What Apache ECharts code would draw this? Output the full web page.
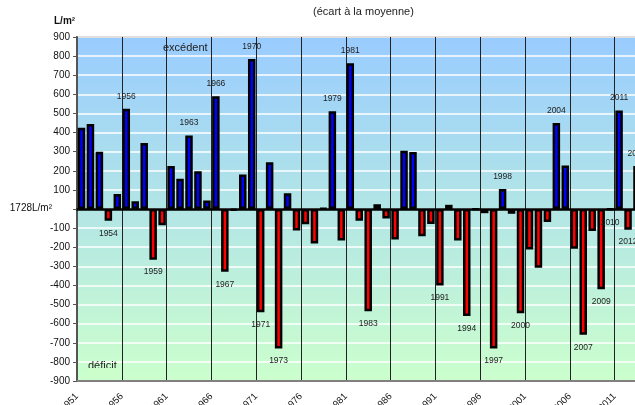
<!DOCTYPE html>
<html>
<head>
<meta charset="utf-8">
<script src="https://cdn.jsdelivr.net/npm/echarts@6/dist/echarts.min.js"></script>
<style>
  html, body { margin: 0; padding: 0; background: #fff; }
  #main { width: 635px; height: 405px; }
</style>
</head>
<body>
<div id="main"></div>
<script>
// écart à la moyenne (1728 L/m²), une barre par année
var firstYear = 1951;
var ecarts = [
  425, 445, 300, -62, 78, 525, 40, 345, -265, -85,
  225, 158, 385, 198, 45, 590, -328, -8, 180, 785,
  -540, 245, -730, 82, -112, -80, -180, 3, 512, -165,
  762, -62, -535, 25, -50, -160, 305, 298, -142, -78,
  -400, 22, -165, -560, -2, -22, -730, 105, -25, -545,
  -212, -308, -68, 450, 228, -208, -658, -115, -420, -3,
  515, -108, 225
];
var years = ecarts.map(function (v, i) { return firstYear + i; });
// années annotées au-dessus / au-dessous de la barre
var labeledYears = [1954, 1956, 1959, 1963, 1966, 1967, 1970, 1971, 1973, 1979, 1981,
  1983, 1991, 1994, 1997, 1998, 2000, 2004, 2007, 2009, 2010, 2011, 2012, 2013];
var yTicks = { min: -900, max: 900, step: 100 };

var font = 'Liberation Sans, Arial, sans-serif';

var barData = ecarts.map(function (v, i) {
  var y = years[i];
  var item = {
    value: v,
    itemStyle: { color: v >= 0 ? '#0000ff' : '#ff0000' }
  };
  if (labeledYears.indexOf(y) >= 0) {
    item.label = {
      show: true,
      position: v >= 0 ? 'top' : 'bottom',
      distance: 8,
      formatter: String(y),
      fontSize: 8.5,
      fontFamily: font,
      color: '#222'
    };
  }
  return item;
});

var myChart = echarts.init(document.getElementById('main'));
var option = {
  animation: false,
  grid: {
    left: 77,
    top: 37,
    width: ecarts.length * 8.96,
    height: 344,
    outerBoundsMode: 'none',
    containLabel: false,
    show: true,
    borderColor: '#808080',
    borderWidth: 2,
    backgroundColor: {
      type: 'linear', x: 0, y: 0, x2: 0, y2: 1,
      colorStops: [
        { offset: 0, color: '#99ccff' },
        { offset: 1, color: '#ccffcc' }
      ]
    }
  },
  xAxis: [
    {
      type: 'category',
      data: years,
      position: 'top',
      axisLine: { onZero: true, lineStyle: { color: '#000', width: 2.5 } },
      axisTick: { show: false },
      axisLabel: { show: false },
      splitLine: { show: false }
    },
    {
      type: 'value',
      position: 'bottom',
      min: 0,
      max: ecarts.length,
      interval: 5,
      axisLine: { show: true, onZero: false, lineStyle: { color: '#808080', width: 2 } },
      axisTick: { show: false },
      splitLine: { show: true, lineStyle: { color: '#222', width: 1 } },
      axisLabel: {
        rotate: 45,
        margin: 14,
        showMaxLabel: false,
        fontSize: 9.5,
        fontFamily: font,
        color: '#111',
        formatter: function (v) { return v <= 60 ? String(firstYear + v) : ''; }
      }
    }
  ],
  yAxis: {
    type: 'value',
    min: yTicks.min,
    max: yTicks.max,
    interval: yTicks.step,
    axisLine: { show: true, lineStyle: { color: '#555', width: 2 } },
    axisTick: { show: true, length: 4, lineStyle: { color: '#555' } },
    splitLine: { show: true, lineStyle: { color: '#ffffff', width: 1.5 } },
    axisLabel: {
      margin: 7,
      fontSize: 10,
      fontFamily: font,
      color: '#111',
      formatter: function (v) { return v === 0 ? '' : String(v); }
    }
  },
  series: [{
    type: 'bar',
    xAxisIndex: 0,
    data: barData,
    barWidth: 7.5,
    itemStyle: { borderColor: '#000', borderWidth: 2.5 }
  }],
  graphic: [
    { type: 'text', left: 313, top: 6, style: { text: '(écart à la moyenne)', fontSize: 11, fontFamily: font, fill: '#222' } },
    { type: 'text', left: 54, top: 16, style: { text: 'L/m²', fontSize: 10, fontWeight: 'bold', fontFamily: font, fill: '#111' } },
    { type: 'text', right: 635 - 52, top: 203, style: { text: '1728L/m²', fontSize: 10, fontFamily: font, fill: '#111' } },
    { type: 'text', left: 163, top: 42, z: 10, style: { text: 'excédent', fontSize: 11, fontFamily: font, fill: '#222' } },
    { type: 'text', left: 88, top: 360, z: 10, style: { text: 'déficit', fontSize: 11, fontFamily: font, fill: '#222' } },
    { type: 'rect', left: 86, top: 368, z: 11, shape: { width: 34, height: 12 }, style: { fill: '#cbfecb' } }
  ]
};
myChart.setOption(option);
</script>
</body>
</html>
